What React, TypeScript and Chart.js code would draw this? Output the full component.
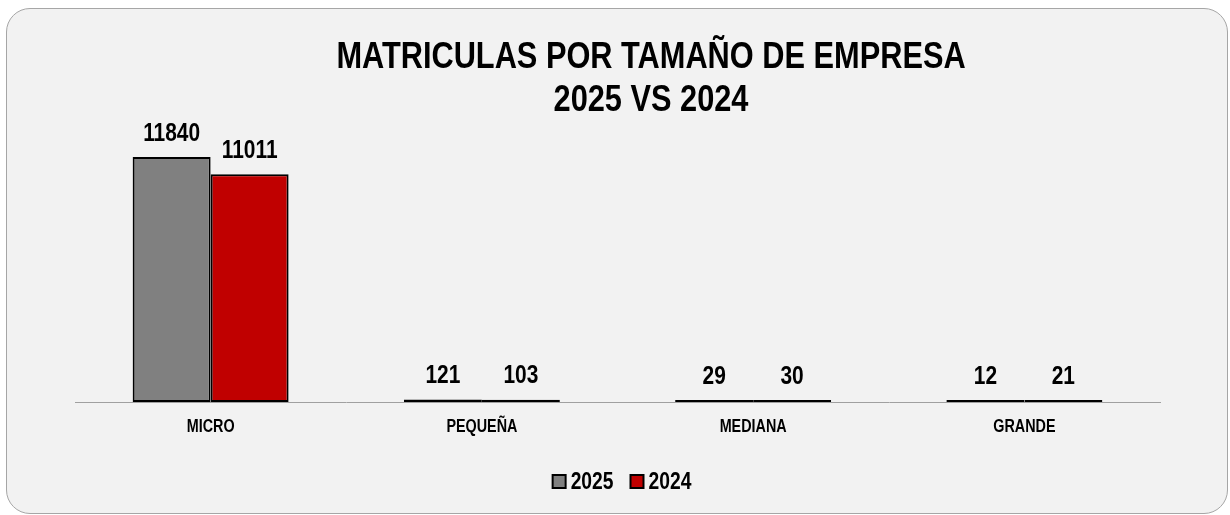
import React, { useEffect, useRef } from "react";
import { Chart, registerables } from "chart.js";

Chart.register(...registerables);

const categories = ["MICRO", "PEQUEÑA", "MEDIANA", "GRANDE"];
const values2025 = [11840, 121, 29, 12];
const values2024 = [11011, 103, 30, 21];
const seriesLabels = ["2025", "2024"];
const seriesColors = ["#808080", "#c00000"];
const titleLines = ["MATRICULAS POR TAMAÑO DE EMPRESA", "2025 VS 2024"];

const FAMILY = "'Liberation Sans', Arial, sans-serif";
const SQUEEZE = 0.82; // Arial Narrow look: Arial compressed horizontally

function narrowText(
  ctx: CanvasRenderingContext2D,
  text: string,
  x: number,
  y: number,
  size: number,
  align: CanvasTextAlign
) {
  ctx.save();
  ctx.font = `bold ${size}px ${FAMILY}`;
  ctx.fillStyle = "#000";
  ctx.textAlign = align;
  ctx.textBaseline = "alphabetic";
  ctx.translate(x, y);
  ctx.scale(SQUEEZE, 1);
  ctx.fillText(text, 0, 0);
  ctx.restore();
}

function narrowWidth(ctx: CanvasRenderingContext2D, text: string, size: number) {
  ctx.save();
  ctx.font = `bold ${size}px ${FAMILY}`;
  const w = ctx.measureText(text).width * SQUEEZE;
  ctx.restore();
  return w;
}

const textPlugin = {
  id: "narrowTexts",
  afterDraw(chart: any) {
    const ctx: CanvasRenderingContext2D = chart.ctx;
    const area = chart.chartArea;

    // Title (two lines)
    const titleX = 644;
    narrowText(ctx, titleLines[0], titleX, 58.5, 37.5, "center");
    narrowText(ctx, titleLines[1], titleX, 102, 37.5, "center");

    // Value labels above bars
    chart.data.datasets.forEach((ds: any, i: number) => {
      const meta = chart.getDatasetMeta(i);
      meta.data.forEach((bar: any, j: number) => {
        narrowText(ctx, String(ds.data[j]), bar.x, bar.y - 16.5, 25.5, "center");
      });
    });

    // Category labels
    const xScale = chart.scales.x;
    categories.forEach((c, i) => {
      narrowText(ctx, c, xScale.getPixelForTick(i), area.bottom + 29.5, 17.5, "center");
    });

    // Legend
    const legendSize = 23.5;
    const box = 13;
    const gapText = 5;
    const gapItem = 17;
    const widths = seriesLabels.map((s) => narrowWidth(ctx, s, legendSize));
    const total = widths.reduce((a, w) => a + box + gapText + w, 0) + gapItem * (seriesLabels.length - 1);
    let lx = 615 - total / 2;
    const baseY = 480;
    seriesLabels.forEach((s, i) => {
      ctx.save();
      ctx.fillStyle = seriesColors[i];
      ctx.fillRect(lx, baseY - 14, box, box);
      ctx.strokeStyle = "#000";
      ctx.lineWidth = 2;
      ctx.strokeRect(lx, baseY - 14, box, box);
      ctx.restore();
      lx += box + gapText;
      narrowText(ctx, s, lx, baseY, legendSize, "left");
      lx += widths[i] + gapItem;
    });
  },
};

export default function App() {
  const ref = useRef<HTMLCanvasElement>(null);
  useEffect(() => {
    const chart = new Chart(ref.current!, {
      type: "bar",
      data: {
        labels: categories,
        datasets: [
          {
            label: seriesLabels[0],
            data: values2025,
            backgroundColor: seriesColors[0],
            borderColor: "#000000",
            borderWidth: 2,
            borderSkipped: false,
            minBarLength: 2,
          },
          {
            label: seriesLabels[1],
            data: values2024,
            backgroundColor: seriesColors[1],
            borderColor: "#000000",
            borderWidth: 2,
            borderSkipped: false,
            minBarLength: 2,
          },
        ],
      },
      options: {
        responsive: false,
        animation: false,
        layout: { padding: { left: 68, right: 67, top: 124, bottom: 111 } },
        datasets: { bar: { barPercentage: 1, categoryPercentage: 0.575 } },
        scales: {
          x: {
            grid: { display: false, drawTicks: false },
            border: { display: true, color: "#a0a0a0", width: 1 },
            ticks: { display: false },
            afterFit(scale: any) {
              scale.height = 0;
            },
          },
          y: {
            display: false,
            min: 0,
            max: 13000,
          },
        },
        plugins: {
          title: { display: false },
          legend: { display: false },
          tooltip: { enabled: false },
        },
      },
      plugins: [textPlugin],
    } as any);
    return () => chart.destroy();
  }, []);

  return (
    <div
      style={{
        position: "absolute",
        left: 6,
        top: 8,
        width: 1222,
        height: 506,
        boxSizing: "border-box",
        border: "1px solid #a6a6a6",
        borderRadius: 24,
        background: "#f2f2f2",
        overflow: "hidden",
      }}
    >
      <canvas ref={ref} width={1220} height={504} style={{ display: "block" }} />
    </div>
  );
}
